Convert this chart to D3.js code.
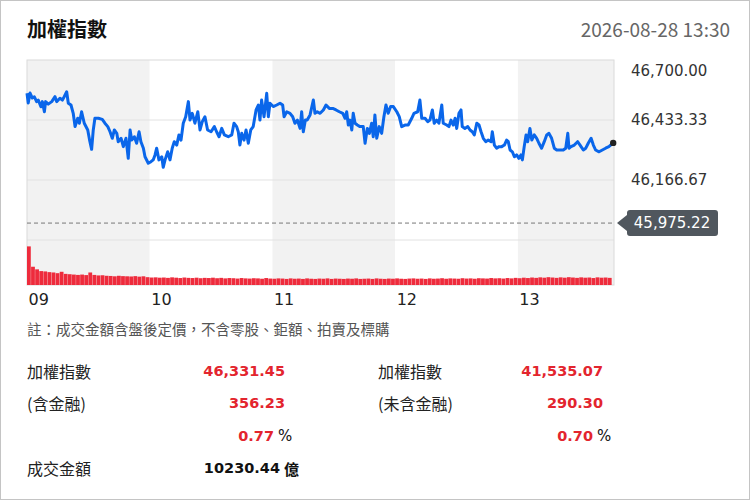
<!DOCTYPE html>
<html>
<head>
<meta charset="utf-8">
<script src="https://cdn.jsdelivr.net/npm/d3@7"></script>
<style>
body { margin: 0; background: #fff; }
svg { display: block; font-family: "Noto Sans CJK TC", "Noto Sans", sans-serif; }
</style>
</head>
<body>
<div id="main"></div>
<script>
var title = "加權指數";
var stamp = "2026-08-28 13:30";

// minutes after 09:00 for each hour band, and its label
var hourStarts = [0, 60, 120, 180, 240];
var hourLabels = ["09", "10", "11", "12", "13"];
var priceTicks = [46700, 46433.33, 46166.67, 45900];
var prevClose = 45975.22;

// [minutes after 09:00, index level]
var pricePoints = [
	[0,46552],[0.6,46509],[1.5,46553],[2.6,46531],[3.6,46536],[4.7,46515],[5.5,46522],[6.8,46492],[7.5,46515],[8.5,46470],
	[9.1,46515],[10.4,46504],[12.1,46515],[13.7,46537],[14.5,46515],[16.1,46530],[17.3,46522],[18.2,46537],[19.4,46559],[20.2,46508],
	[21.5,46500],[22.6,46463],[23.5,46404],[24.8,46441],[25.6,46419],[26.7,46470],[28.0,46419],[29.7,46389],[30.6,46344],[31.6,46303],
	[32.4,46389],[33.2,46441],[34.9,46441],[36.8,46436],[38.1,46419],[39.5,46404],[40.6,46381],[41.7,46352],[42.7,46389],[43.9,46374],
	[44.6,46337],[46.0,46352],[47.1,46315],[48.4,46352],[49.5,46263],[50.4,46389],[51.2,46344],[52.5,46359],[53.6,46330],[54.8,46381],
	[55.7,46337],[56.9,46308],[57.7,46270],[59.3,46241],[60.6,46248],[61.7,46256],[62.6,46278],[63.4,46308],[64.5,46256],[65.9,46270],
	[66.6,46223],[67.5,46256],[68.8,46292],[69.9,46256],[71.0,46308],[72.0,46337],[73.2,46322],[74.3,46367],[75.3,46344],[76.4,46419],
	[77.6,46448],[78.9,46515],[79.7,46433],[80.8,46463],[82.1,46419],[83.5,46470],[84.6,46389],[85.7,46426],[87.0,46448],[88.3,46389],
	[90.0,46381],[91.6,46404],[92.7,46381],[93.9,46359],[95.2,46396],[96.5,46367],[98.4,46359],[100.1,46367],[101.2,46419],[102.5,46404],
	[103.3,46381],[104.1,46322],[105.0,46374],[106.1,46344],[107.1,46389],[108.2,46330],[109.4,46389],[110.6,46404],[112.0,46478],[113.1,46500],
	[113.9,46433],[114.7,46522],[115.9,46448],[117.2,46552],[118.0,46448],[118.8,46508],[120.4,46493],[122.1,46500],[123.7,46508],[125.0,46500],
	[125.7,46448],[127.0,46470],[128.6,46463],[129.9,46448],[131.0,46419],[132.2,46433],[133.5,46396],[134.3,46470],[135.1,46381],[136.1,46433],
	[137.0,46433],[138.4,46456],[140.0,46522],[140.8,46463],[141.9,46470],[143.3,46463],[144.9,46478],[146.2,46500],[147.8,46485],[149.5,46485],
	[151.1,46478],[152.7,46470],[154.4,46463],[155.5,46441],[156.3,46470],[157.1,46411],[157.9,46433],[158.8,46389],[159.5,46463],[160.4,46419],
	[161.5,46411],[162.8,46404],[164.4,46404],[165.3,46330],[166.4,46396],[167.4,46374],[168.5,46419],[169.3,46359],[170.1,46456],[171.0,46352],
	[172.2,46404],[173.4,46374],[174.5,46448],[175.5,46500],[176.6,46463],[177.8,46493],[179.1,46493],[180.8,46470],[182.0,46448],[183.2,46404],
	[184.8,46411],[186.4,46411],[188.1,46441],[189.2,46463],[191.0,46470],[192.1,46522],[193.0,46441],[194.6,46441],[195.9,46426],[197.0,46433],
	[198.2,46478],[199.1,46419],[200.3,46433],[201.4,46419],[202.8,46500],[203.5,46419],[205.2,46411],[206.3,46404],[207.3,46433],[208.4,46411],
	[209.3,46441],[210.1,46396],[211.2,46463],[212.2,46478],[212.8,46404],[214.1,46396],[215.5,46404],[216.6,46389],[217.7,46381],[218.7,46367],
	[219.9,46419],[221.0,46411],[222.0,46381],[223.1,46352],[224.3,46337],[225.5,46344],[226.9,46337],[227.5,46381],[228.5,46322],[229.6,46308],
	[230.8,46315],[232.1,46315],[233.4,46322],[234.5,46344],[235.3,46337],[236.2,46300],[237.3,46292],[238.3,46270],[239.4,46278],[240.5,46263],
	[241.5,46278],[242.2,46256],[243.1,46315],[244.0,46367],[244.8,46337],[245.9,46396],[246.8,46344],[248.0,46367],[249.2,46352],[250.3,46330],
	[251.6,46308],[252.9,46337],[254.1,46367],[255.2,46374],[256.5,46352],[257.8,46308],[259.0,46300],[260.6,46300],[262.2,46300],[263.4,46308],
	[264.4,46374],[265.0,46308],[266.0,46315],[267.6,46322],[269.2,46337],[270.4,46322],[272.0,46300],[273.2,46308],[274.4,46330],[275.8,46352],
	[276.9,46322],[278.0,46300],[279.7,46292],[281.3,46300],[282.9,46308],[284.5,46315],[286.6,46331.45]
];

// turnover (億) per 2-minute bucket
var volStep = 2;
var volumes = [
	222,105,90,80,78,74,72,68,76,64,62,60,58,60,57,72,58,55,56,53,
	52,50,53,51,50,49,51,48,50,45,43,44,42,43,41,44,42,40,43,41,
	40,42,39,41,40,42,39,41,38,40,39,37,40,38,37,39,38,36,40,37,
	36,38,37,35,38,36,37,35,38,36,35,37,36,38,35,37,36,35,37,36,
	38,35,36,37,35,38,36,35,37,36,38,36,35,37,38,36,37,35,38,36,
	37,39,36,38,37,36,39,37,38,36,39,38,37,40,38,39,37,40,38,41,
	39,42,40,43,41,44,42,45,43,41,44,42,45,43,41,44,42,43,40,44,
	42,43,41
];

var note = "註：成交金額含盤後定價，不含零股、鉅額、拍賣及標購";
var leftLabels = ["加權指數", "(含金融)"];
var leftValues = ["46,331.45", "356.23", "0.77"];
var rightLabels = ["加權指數", "(未含金融)"];
var rightValues = ["41,535.07", "290.30", "0.70"];
var turnoverLabel = "成交金額";
var turnoverValue = "10230.44";
var turnoverUnit = "億";

var red = "#e3252e";
var numFont = "DejaVu Sans";

var svg = d3.select("#main").append("svg")
	.attr("width", 750)
	.attr("height", 500);

svg.append("rect")
	.attr("x", 0.5).attr("y", 0.5)
	.attr("width", 749).attr("height", 499)
	.attr("fill", "#fff")
	.attr("stroke", "#c4c4c4");

svg.append("text")
	.attr("x", 27).attr("y", 28)
	.attr("dominant-baseline", "central")
	.attr("font-size", 20)
	.attr("font-weight", "bold")
	.attr("fill", "#111")
	.text(title);

svg.append("text")
	.attr("x", 730).attr("y", 28)
	.attr("dominant-baseline", "central")
	.attr("text-anchor", "end")
	.attr("font-size", 19)
	.attr("fill", "#666")
	.text(stamp);

var plotL = 27, plotR = 614, plotT = 60, plotB = 285;

var x = d3.scaleLinear().domain([0, 287]).range([plotL, plotR]);
var y = d3.scaleLinear().domain([45900, 46700]).range([240, plotT]);
var yv = d3.scaleLinear().domain([0, 230]).range([plotB, 245]);

// alternating hour bands
svg.selectAll(".band").data(hourStarts).enter().append("rect")
	.attr("class", "band")
	.attr("x", function(d) { return x(d); })
	.attr("y", plotT)
	.attr("width", function(d, i) {
		var end = i < hourStarts.length - 1 ? x(hourStarts[i + 1]) : plotR;
		return end - x(d);
	})
	.attr("height", plotB - plotT)
	.attr("fill", function(d, i) { return i % 2 == 0 ? "#f2f2f2" : "#fff"; });

svg.selectAll(".grid").data(priceTicks.slice(1)).enter().append("line")
	.attr("class", "grid")
	.attr("x1", plotL).attr("x2", plotR)
	.attr("y1", function(d) { return y(d); })
	.attr("y2", function(d) { return y(d); })
	.attr("stroke", "#e2e2e2");

svg.append("rect")
	.attr("x", plotL).attr("y", plotT)
	.attr("width", plotR - plotL).attr("height", plotB - plotT)
	.attr("fill", "none")
	.attr("stroke", "#dadada");

// volume bars
var barW = x(volStep) - x(0);
svg.selectAll(".vol").data(volumes).enter().append("rect")
	.attr("class", "vol")
	.attr("x", function(d, i) { return x(i * volStep); })
	.attr("y", function(d) { return yv(d); })
	.attr("width", barW - 0.3)
	.attr("height", function(d) { return plotB - yv(d); })
	.attr("fill", "#ee2b3c");

// previous close
svg.append("line")
	.attr("x1", plotL).attr("x2", plotR)
	.attr("y1", y(prevClose)).attr("y2", y(prevClose))
	.attr("stroke", "#777")
	.attr("stroke-dasharray", "4,3");

var line = d3.line()
	.x(function(d) { return x(d[0]); })
	.y(function(d) { return y(d[1]); });

svg.append("path")
	.datum(pricePoints)
	.attr("d", line)
	.attr("fill", "none")
	.attr("stroke", "#0a66ea")
	.attr("stroke-width", 3)
	.attr("stroke-linejoin", "round");

var last = pricePoints[pricePoints.length - 1];
svg.append("circle")
	.attr("cx", x(last[0])).attr("cy", y(last[1]))
	.attr("r", 3.2)
	.attr("fill", "#222");

// price axis on the right
var yAxis = svg.append("g")
	.attr("transform", "translate(631,0)")
	.call(d3.axisRight(y).tickValues(priceTicks.slice(0, 3)).tickFormat(d3.format(",.2f")).tickSize(0).tickPadding(0));
yAxis.select(".domain").remove();
yAxis.selectAll("text")
	.attr("font-family", numFont)
	.attr("font-size", 15)
	.attr("fill", "#333")
	.attr("y", function(d) { return d === priceTicks[0] ? 11 : 0; });

// hour axis
var xAxis = svg.append("g")
	.attr("transform", "translate(0," + plotB + ")")
	.call(d3.axisBottom(x).tickValues(hourStarts).tickFormat(function(d, i) { return hourLabels[i]; }).tickSize(0).tickPadding(9));
xAxis.select(".domain").remove();
xAxis.selectAll("text")
	.attr("text-anchor", "start")
	.attr("x", 1)
	.attr("font-family", numFont)
	.attr("font-size", 16)
	.attr("fill", "#222");

// previous close badge
var by = y(prevClose);
svg.append("path")
	.attr("d", "M617," + by + " L627," + (by - 8) + " L627," + (by - 10) + " Q627," + (by - 13) + " 630," + (by - 13)
		+ " L715," + (by - 13) + " Q718," + (by - 13) + " 718," + (by - 10)
		+ " L718," + (by + 10) + " Q718," + (by + 13) + " 715," + (by + 13)
		+ " L630," + (by + 13) + " Q627," + (by + 13) + " 627," + (by + 10) + " L627," + (by + 8) + " Z")
	.attr("fill", "#50575e");
svg.append("text")
	.attr("x", 672).attr("y", by)
	.attr("text-anchor", "middle")
	.attr("dominant-baseline", "central")
	.attr("font-family", numFont)
	.attr("font-size", 15)
	.attr("fill", "#fff")
	.text(d3.format(",.2f")(prevClose));

// note and statistics
svg.append("text")
	.attr("x", 27).attr("y", 328)
	.attr("dominant-baseline", "central")
	.attr("font-size", 14.5)
	.attr("fill", "#555")
	.text(note);

function label(txt, lx, ly) {
	svg.append("text")
		.attr("x", lx).attr("y", ly)
		.attr("dominant-baseline", "central")
		.attr("font-size", 16)
		.attr("fill", "#222")
		.text(txt);
}

function value(txt, rx, ly, color) {
	svg.append("text")
		.attr("x", rx).attr("y", ly)
		.attr("text-anchor", "end")
		.attr("dominant-baseline", "central")
		.attr("font-family", numFont)
		.attr("font-weight", "bold")
		.attr("font-size", 14.5)
		.attr("fill", color)
		.text(txt);
}

function unit(txt, ux, ly, bold, fam) {
	svg.append("text")
		.attr("x", ux).attr("y", ly)
		.attr("dominant-baseline", "central")
		.attr("font-family", fam)
		.attr("font-weight", bold ? "bold" : "normal")
		.attr("font-size", 15)
		.attr("fill", "#111")
		.text(txt);
}

var rowY = [371, 403, 436, 468];

label(leftLabels[0], 27, rowY[0]);
label(leftLabels[1], 27, rowY[1]);
label(turnoverLabel, 27, rowY[3]);
value(leftValues[0], 285, rowY[0], red);
value(leftValues[1], 285, rowY[1], red);
value(leftValues[2], 274, rowY[2], red);
unit("%", 278, rowY[2], false, numFont);
value(turnoverValue, 280, rowY[3], "#111");
unit(turnoverUnit, 284, rowY[3], true, "Noto Sans CJK TC");

label(rightLabels[0], 378, rowY[0]);
label(rightLabels[1], 378, rowY[1]);
value(rightValues[0], 603, rowY[0], red);
value(rightValues[1], 603, rowY[1], red);
value(rightValues[2], 593, rowY[2], red);
unit("%", 597, rowY[2], false, numFont);
</script>
</body>
</html>
